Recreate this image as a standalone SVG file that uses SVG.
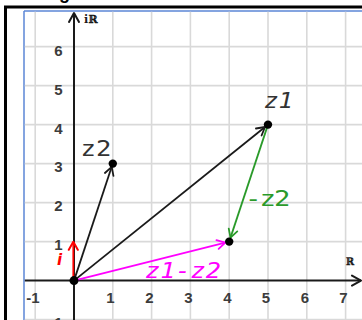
<svg xmlns="http://www.w3.org/2000/svg" width="362" height="320" viewBox="0 0 362 320">
  <style>
    .grid line { stroke: #d9d9d9; stroke-width: 1.6; }
    .axis { stroke: #1a1a1a; stroke-width: 2; fill: none; }
    .tick { font-family: "Liberation Sans", Arial, sans-serif; font-weight: bold; font-size: 15px; fill: #3c3c3c; }
    .tx { text-anchor: middle; }
    .ty { text-anchor: end; }
    .vec { stroke-width: 1.8; fill: none; }
    .lbl { font-family: "DejaVu Sans Mono", "Liberation Mono", monospace; font-size: 21px; }
    .it { font-style: italic; }
    .dot { fill: #000; }
  </style>
  <defs>
    <marker id="ahK" viewBox="-10 -6 12 12" markerWidth="12" markerHeight="12" refX="0" refY="0" orient="auto" markerUnits="userSpaceOnUse">
      <path d="M-8,-4.5 L0,0 L-8,4.5" fill="none" stroke="#1a1a1a" stroke-width="1.8" stroke-linecap="round" stroke-linejoin="round"/>
    </marker>
    <marker id="ahG" viewBox="-10 -6 12 12" markerWidth="12" markerHeight="12" refX="0" refY="0" orient="auto" markerUnits="userSpaceOnUse">
      <path d="M-8,-4.5 L0,0 L-8,4.5" fill="none" stroke="#2a9a2a" stroke-width="1.8" stroke-linecap="round" stroke-linejoin="round"/>
    </marker>
    <marker id="ahM" viewBox="-10 -6 12 12" markerWidth="12" markerHeight="12" refX="0" refY="0" orient="auto" markerUnits="userSpaceOnUse">
      <path d="M-8,-4.5 L0,0 L-8,4.5" fill="none" stroke="#ff00ff" stroke-width="1.8" stroke-linecap="round" stroke-linejoin="round"/>
    </marker>
    <marker id="ahR" viewBox="-10 -6 12 12" markerWidth="12" markerHeight="12" refX="0" refY="0" orient="auto" markerUnits="userSpaceOnUse">
      <path d="M-8,-4.5 L0,0 L-8,4.5" fill="none" stroke="#ff0000" stroke-width="2" stroke-linecap="round" stroke-linejoin="round"/>
    </marker>
    <marker id="ahA" viewBox="-12 -7 14 14" markerWidth="14" markerHeight="14" refX="0" refY="0" orient="auto" markerUnits="userSpaceOnUse">
      <path d="M-9,-5 L0,0 L-9,5" fill="none" stroke="#1a1a1a" stroke-width="2" stroke-linecap="round" stroke-linejoin="round"/>
    </marker>
  </defs>

  <rect x="0" y="0" width="362" height="320" fill="#fff"/>
  <text x="59" y="-1.5" font-family="Liberation Sans, sans-serif" font-weight="bold" font-size="18" fill="#000">g</text>

  <g id="frame">
    <line x1="4" y1="7" x2="362" y2="7" stroke="#000" stroke-width="3"/>
    <line x1="5.5" y1="7" x2="5.5" y2="320" stroke="#000" stroke-width="3"/>
    <line x1="24" y1="11" x2="362" y2="11" stroke="#5b86d6" stroke-width="1.5"/>
    <line x1="24" y1="11" x2="24" y2="320" stroke="#5b86d6" stroke-width="1.5"/>
  </g>

  <g class="grid" id="grid">
    <line x1="35.2" y1="11.8" x2="35.2" y2="320"/>
    <line x1="112.8" y1="11.8" x2="112.8" y2="320"/>
    <line x1="151.6" y1="11.8" x2="151.6" y2="320"/>
    <line x1="190.4" y1="11.8" x2="190.4" y2="320"/>
    <line x1="229.2" y1="11.8" x2="229.2" y2="320"/>
    <line x1="268" y1="11.8" x2="268" y2="320"/>
    <line x1="306.8" y1="11.8" x2="306.8" y2="320"/>
    <line x1="345.6" y1="11.8" x2="345.6" y2="320"/>
    <line x1="24.8" y1="46.6" x2="362" y2="46.6"/>
    <line x1="24.8" y1="85.6" x2="362" y2="85.6"/>
    <line x1="24.8" y1="124.6" x2="362" y2="124.6"/>
    <line x1="24.8" y1="163.6" x2="362" y2="163.6"/>
    <line x1="24.8" y1="202.6" x2="362" y2="202.6"/>
    <line x1="24.8" y1="241.6" x2="362" y2="241.6"/>
    <line x1="24.8" y1="319.6" x2="362" y2="319.6"/>
  </g>

  <g id="axes">
    <line class="axis" x1="24.8" y1="280.6" x2="361" y2="280.6" marker-end="url(#ahA)"/>
    <line class="axis" x1="74" y1="320" x2="74" y2="13" marker-end="url(#ahA)"/>
    <text x="84" y="23" font-family="DejaVu Serif, serif" font-weight="bold" font-size="11" fill="#1a1a1a">iℝ</text>
    <text x="346" y="265" font-family="DejaVu Serif, serif" font-weight="bold" font-size="10" fill="#1a1a1a">ℝ</text>
    <g class="tick tx">
      <text x="33" y="303">-1</text>
      <text x="110.5" y="303">1</text>
      <text x="149.5" y="303">2</text>
      <text x="188.5" y="303">3</text>
      <text x="227.5" y="303">4</text>
      <text x="266" y="303">5</text>
      <text x="305" y="303">6</text>
      <text x="343.5" y="303">7</text>
    </g>
    <g class="tick ty">
      <text x="62.5" y="55.5">6</text>
      <text x="62.5" y="94.5">5</text>
      <text x="62.5" y="133.5">4</text>
      <text x="62.5" y="172">3</text>
      <text x="62.5" y="211">2</text>
      <text x="62.5" y="250">1</text>
      <text x="62.5" y="328">-1</text>
    </g>
  </g>

  <g id="connectors">
    <line class="vec" x1="74" y1="280.6" x2="111.7" y2="166.8" stroke="#1a1a1a" marker-end="url(#ahK)"/>
    <line class="vec" x1="74" y1="280.6" x2="265" y2="127" stroke="#1a1a1a" marker-end="url(#ahK)"/>
    <line class="vec" x1="268" y1="124.6" x2="230.5" y2="237.6" stroke="#2a9a2a" marker-end="url(#ahG)"/>
    <line class="vec" x1="74" y1="280.6" x2="225.3" y2="242.6" stroke="#ff00ff" marker-end="url(#ahM)"/>
    <line class="vec" x1="73.3" y1="280.6" x2="73.3" y2="241.8" stroke="#ff0000" stroke-width="2" marker-end="url(#ahR)"/>
  </g>

  <g id="origin">
    <circle class="dot" cx="74" cy="280.6" r="4.5"/>
    <text x="57" y="265" font-family="DejaVu Sans, sans-serif" font-style="italic" font-weight="bold" font-size="15" fill="#ff0000">i</text>
  </g>
  <g id="z2">
    <circle class="dot" cx="112.8" cy="163.6" r="4.2"/>
    <text transform="translate(80.5,155.5) scale(1.22,1)" class="lbl" fill="#333">z2</text>
  </g>
  <g id="z1">
    <circle class="dot" cx="268" cy="124.6" r="4.2"/>
    <text transform="translate(264,108) scale(1.15,1)" class="lbl it" fill="#333">z1</text>
  </g>
  <g id="z1mz2">
    <circle class="dot" cx="229.2" cy="241.6" r="4.2"/>
  </g>
  <g id="labels">
    <text transform="translate(245,206) scale(1.3,1)" class="lbl" letter-spacing="-1.5" fill="#2a9a2a">-z2</text>
    <text transform="translate(145,277.5) scale(1.2,1)" class="lbl it" fill="#ff00ff">z1-z2</text>
  </g>
</svg>
